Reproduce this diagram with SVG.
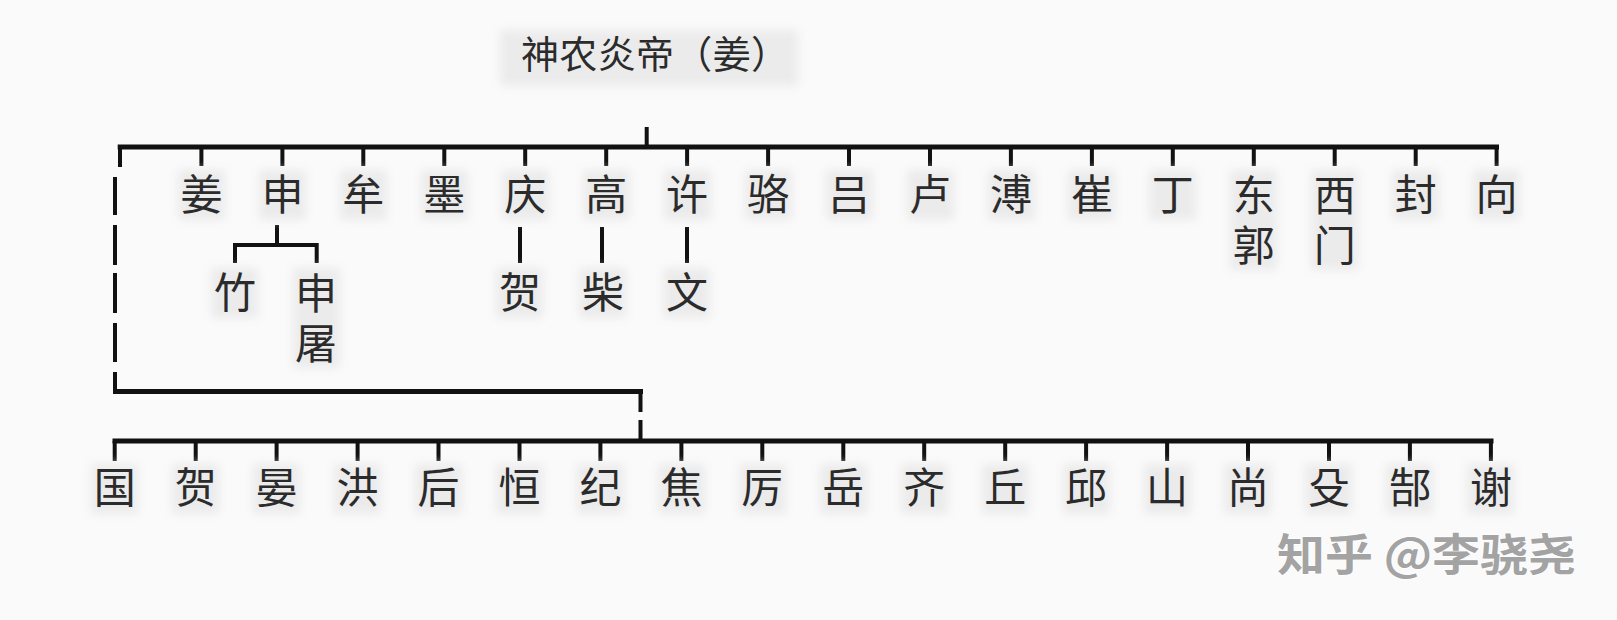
<svg xmlns="http://www.w3.org/2000/svg" width="1617" height="620" viewBox="0 0 1617 620">
  <defs>
    <filter id="soft" x="-50%" y="-50%" width="200%" height="200%">
      <feGaussianBlur stdDeviation="5"/>
    </filter>
    <style>
      .bg { fill: #fafafa; }
      .halo { fill: #ebebeb; filter: url(#soft); }
      .lbl { font-family: "Noto Sans CJK SC", "Noto Sans", sans-serif; font-size: 42px; fill: #2b2b2b; text-anchor: middle; }
      .vert { font-family: "Noto Sans CJK SC", "Noto Sans", sans-serif; font-size: 42px; fill: #2b2b2b; writing-mode: vertical-rl; text-anchor: start; letter-spacing: 8px; }
      .title { font-family: "Noto Sans CJK SC", "Noto Sans", sans-serif; font-size: 38px; fill: #2b2b2b; }
      .wm { font-family: "Noto Sans CJK SC", "Noto Sans", sans-serif; font-size: 44px; font-weight: 700; fill: #a3a3a3; stroke: #ffffff; stroke-width: 1.5px; paint-order: stroke; }
      .bar { fill: none; stroke: #111111; stroke-width: 5; stroke-linecap: butt; }
      .tick { fill: none; stroke: #111111; stroke-width: 4; stroke-linecap: butt; }
    </style>
  </defs>

  <rect class="bg" x="0" y="0" width="1617" height="620"/>

  <g id="connectors">
    <path class="tick" d="M646.7 127 V147"/>
    <path class="bar" d="M117.7 147 H1499"/>
    <path class="tick" d="M120 147 V167"/>
    <path class="tick" d="M201.4 147 V166 M282.4 147 V166 M363.3 147 V166 M444.3 147 V166 M525.2 147 V166 M606.2 147 V166 M687.1 147 V166 M768.1 147 V166 M849 147 V166 M930 147 V166 M1010.9 147 V166 M1091.9 147 V166 M1172.8 147 V166 M1253.8 147 V166 M1334.7 147 V166 M1415.7 147 V166 M1496.6 147 V166"/>
    <path class="tick" d="M115 177 V215 M115 225 V265 M115 273 V313 M115 323 V362 M115 372 V391.5"/>
    <path class="bar" d="M113 391.5 H643"/>
    <path class="tick" d="M640.5 391.5 V412 M640.5 420 V441"/>
    <path class="tick" d="M277 225 V245"/>
    <path class="tick" d="M235 263 V245 H316.7 V263"/>
    <path class="tick" d="M520 227 V263"/>
    <path class="tick" d="M602 227 V263"/>
    <path class="tick" d="M687 227 V263"/>
    <path class="bar" d="M112.5 441 H1493.5"/>
    <path class="tick" d="M114.7 441 V461 M195.7 441 V461 M276.6 441 V461 M357.6 441 V461 M438.5 441 V461 M519.5 441 V461 M600.4 441 V461 M681.4 441 V461 M762.3 441 V461 M843.3 441 V461 M924.2 441 V461 M1005.2 441 V461 M1086.1 441 V461 M1167.1 441 V461 M1248 441 V461 M1329 441 V461 M1409.9 441 V461 M1490.9 441 V461"/>
  </g>

  <g id="root">
    <rect class="halo" x="500" y="30" width="298" height="56"/>
    <text class="title" x="521" y="68" textLength="268" lengthAdjust="spacing">神农炎帝（姜）</text>
  </g>

  <g id="n-jiang"><rect class="halo" x="178" y="170" width="47" height="50"/><text class="lbl" x="201.4" y="210">姜</text></g>
  <g id="n-shen"><rect class="halo" x="259" y="170" width="47" height="50"/><text class="lbl" x="282.4" y="210">申</text></g>
  <g id="n-mou"><rect class="halo" x="340" y="170" width="47" height="50"/><text class="lbl" x="363.3" y="210">牟</text></g>
  <g id="n-mo"><rect class="halo" x="421" y="170" width="47" height="50"/><text class="lbl" x="444.3" y="210">墨</text></g>
  <g id="n-qing"><rect class="halo" x="502" y="170" width="47" height="50"/><text class="lbl" x="525.2" y="210">庆</text></g>
  <g id="n-gao"><rect class="halo" x="583" y="170" width="47" height="50"/><text class="lbl" x="606.2" y="210">高</text></g>
  <g id="n-xu"><rect class="halo" x="664" y="170" width="47" height="50"/><text class="lbl" x="687.1" y="210">许</text></g>
  <g id="n-luo"><rect class="halo" x="745" y="170" width="47" height="50"/><text class="lbl" x="768.1" y="210">骆</text></g>
  <g id="n-lv"><rect class="halo" x="826" y="170" width="47" height="50"/><text class="lbl" x="849" y="210">吕</text></g>
  <g id="n-lu"><rect class="halo" x="907" y="170" width="47" height="50"/><text class="lbl" x="930" y="210">卢</text></g>
  <g id="n-pu"><rect class="halo" x="988" y="170" width="47" height="50"/><text class="lbl" x="1010.9" y="210">溥</text></g>
  <g id="n-cui"><rect class="halo" x="1068" y="170" width="47" height="50"/><text class="lbl" x="1091.9" y="210">崔</text></g>
  <g id="n-ding"><rect class="halo" x="1149" y="170" width="47" height="50"/><text class="lbl" x="1172.8" y="210">丁</text></g>
  <g id="n-dongguo"><rect class="halo" x="1230" y="170" width="47" height="100"/><text class="vert" x="1253.8" y="174">东郭</text></g>
  <g id="n-ximen"><rect class="halo" x="1311" y="170" width="47" height="100"/><text class="vert" x="1334.7" y="174">西门</text></g>
  <g id="n-feng"><rect class="halo" x="1392" y="170" width="47" height="50"/><text class="lbl" x="1415.7" y="210">封</text></g>
  <g id="n-xiang"><rect class="halo" x="1473" y="170" width="47" height="50"/><text class="lbl" x="1496.6" y="210">向</text></g>

  <g id="n-zhu"><rect class="halo" x="211" y="268" width="47" height="50"/><text class="lbl" x="235" y="308">竹</text></g>
  <g id="n-shentu"><rect class="halo" x="293" y="268" width="47" height="100"/><text class="vert" x="316" y="272">申屠</text></g>
  <g id="n-he1"><rect class="halo" x="496" y="268" width="47" height="50"/><text class="lbl" x="520" y="308">贺</text></g>
  <g id="n-chai"><rect class="halo" x="579" y="268" width="47" height="50"/><text class="lbl" x="603" y="308">柴</text></g>
  <g id="n-wen"><rect class="halo" x="663" y="268" width="47" height="50"/><text class="lbl" x="687" y="308">文</text></g>

  <g id="b-guo"><rect class="halo" x="91" y="464" width="47" height="50"/><text class="lbl" x="114.7" y="503">国</text></g>
  <g id="b-he"><rect class="halo" x="172" y="464" width="47" height="50"/><text class="lbl" x="195.7" y="503">贺</text></g>
  <g id="b-yan"><rect class="halo" x="253" y="464" width="47" height="50"/><text class="lbl" x="276.6" y="503">晏</text></g>
  <g id="b-hong"><rect class="halo" x="334" y="464" width="47" height="50"/><text class="lbl" x="357.6" y="503">洪</text></g>
  <g id="b-hou"><rect class="halo" x="415" y="464" width="47" height="50"/><text class="lbl" x="438.5" y="503">后</text></g>
  <g id="b-heng"><rect class="halo" x="496" y="464" width="47" height="50"/><text class="lbl" x="519.5" y="503">恒</text></g>
  <g id="b-ji"><rect class="halo" x="577" y="464" width="47" height="50"/><text class="lbl" x="600.4" y="503">纪</text></g>
  <g id="b-jiao"><rect class="halo" x="658" y="464" width="47" height="50"/><text class="lbl" x="681.4" y="503">焦</text></g>
  <g id="b-li"><rect class="halo" x="739" y="464" width="47" height="50"/><text class="lbl" x="762.3" y="503">厉</text></g>
  <g id="b-yue"><rect class="halo" x="820" y="464" width="47" height="50"/><text class="lbl" x="843.3" y="503">岳</text></g>
  <g id="b-qi"><rect class="halo" x="901" y="464" width="47" height="50"/><text class="lbl" x="924.2" y="503">齐</text></g>
  <g id="b-qiu"><rect class="halo" x="982" y="464" width="47" height="50"/><text class="lbl" x="1005.2" y="503">丘</text></g>
  <g id="b-qiu2"><rect class="halo" x="1063" y="464" width="47" height="50"/><text class="lbl" x="1086.1" y="503">邱</text></g>
  <g id="b-shan"><rect class="halo" x="1144" y="464" width="47" height="50"/><text class="lbl" x="1167.1" y="503">山</text></g>
  <g id="b-shang"><rect class="halo" x="1224" y="464" width="47" height="50"/><text class="lbl" x="1248" y="503">尚</text></g>
  <g id="b-shu"><rect class="halo" x="1305" y="464" width="47" height="50"/><text class="lbl" x="1329" y="503">殳</text></g>
  <g id="b-gao"><rect class="halo" x="1386" y="464" width="47" height="50"/><text class="lbl" x="1409.9" y="503">郜</text></g>
  <g id="b-xie"><rect class="halo" x="1467" y="464" width="47" height="50"/><text class="lbl" x="1490.9" y="503">谢</text></g>

  <g id="watermark">
    <text class="wm" x="1277" y="571" textLength="299" lengthAdjust="spacingAndGlyphs">知乎 @李骁尧</text>
  </g>
</svg>
